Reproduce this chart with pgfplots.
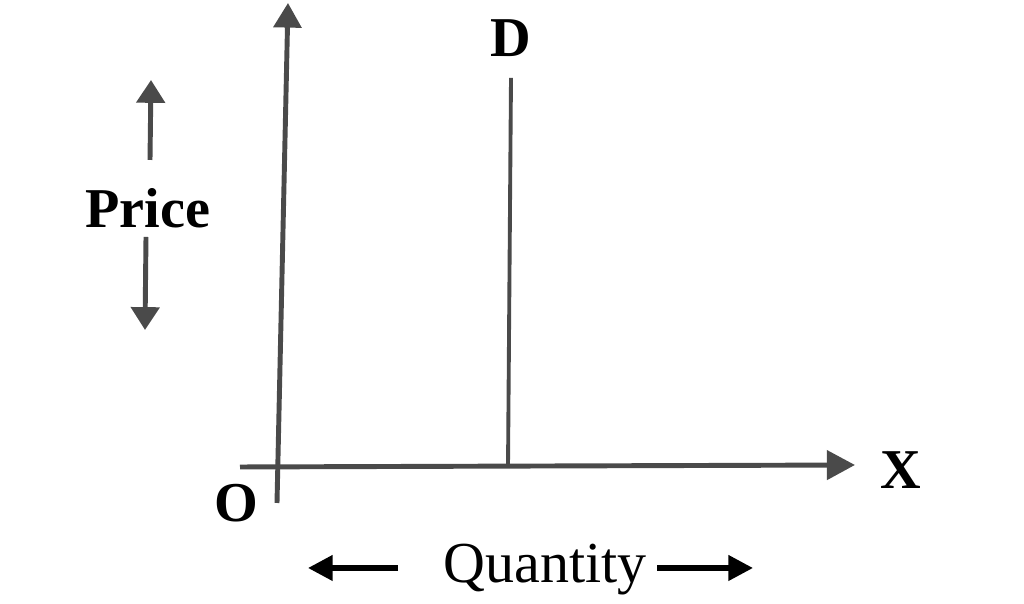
\documentclass[border=0pt]{standalone}
\usepackage{pgfplots}
\pgfplotsset{compat=1.18}
\usepackage{fontspec}
\setmainfont{Liberation Serif}
\usetikzlibrary{arrows.meta}
\definecolor{ln}{HTML}{4A4A4A}
\begin{document}
\begin{tikzpicture}
\begin{axis}[
  scale only axis, width=10.24cm, height=6.04cm,
  xmin=0, xmax=1024, ymin=0, ymax=604,
  hide axis, clip=false, enlargelimits=false]
% Y axis
\addplot[ln, line width=1.4pt, -{Triangle[width=7.8pt,length=7pt]}] coordinates {(277,101) (288,601)};
% X axis
\addplot[ln, line width=1.4pt, -{Triangle[width=8.2pt,length=8pt]}] coordinates {(240,137) (855,139)};
% D line
\addplot[ln, line width=1.1pt] coordinates {(508,136) (511,526)};
% Price arrows
\addplot[ln, line width=1.4pt, -{Triangle[width=8pt,length=6.5pt]}] coordinates {(150,444) (151,524)};
\addplot[ln, line width=1.4pt, -{Triangle[width=8pt,length=6.5pt]}] coordinates {(146,367) (145,274)};
% Quantity arrows
\addplot[black, line width=1.5pt, -{Triangle[width=7pt,length=7pt]}] coordinates {(398,36) (308,36)};
\addplot[black, line width=1.5pt, -{Triangle[width=7pt,length=7pt]}] coordinates {(657,36) (753,36)};
% Labels
\node[font=\fontsize{16}{18}\selectfont\bfseries] at (axis cs:511,566) {D};
\node[font=\fontsize{16}{18}\selectfont\bfseries] at (axis cs:236,101) {O};
\node[font=\fontsize{16}{18}\selectfont\bfseries] at (axis cs:901,134) {X};
\node[font=\fontsize{16}{18}\selectfont\bfseries] at (axis cs:148,396) {Price};
\node[font=\fontsize{16.5}{18}\selectfont] at (axis cs:545,34) {Quantity};
\end{axis}
\pgfresetboundingbox
\path (current axis.south west) rectangle (current axis.north east);
\end{tikzpicture}
\end{document}
